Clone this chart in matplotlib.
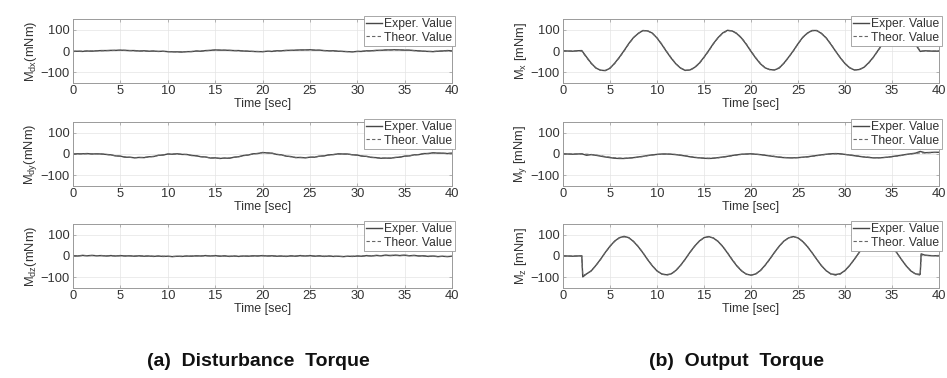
import numpy as np
import matplotlib
matplotlib.use("Agg")
import matplotlib.pyplot as plt

plt.rcParams['font.family'] = ['Liberation Sans', 'DejaVu Sans']
plt.rcParams['mathtext.default'] = 'regular'

# ---------------- data ----------------
time = np.arange(0, 40.01, 0.5)
time_z = np.r_[np.arange(0, 2.01, 0.5), 2.1, np.arange(2.5, 38.01, 0.5), 38.1, np.arange(38.5, 40.01, 0.5)]

x_ticks = [0, 5, 10, 15, 20, 25, 30, 35, 40]
y_ticks = [-100, 0, 100]

# (a) disturbance torque
mdx_theor = [-1, -1, -1, 0, 0, 1, 1, 2, 2, 3,
             3, 3, 2, 1, 0, 0, -1, -1, -2, -2,
             -3, -3, -4, -4, -3, -2, -1, 0, 1, 3,
             4, 4, 3, 3, 2, 1, 0, -1, -2, -2,
             -3, -2, -1, 0, 1, 2, 3, 3, 4, 5,
             5, 4, 3, 2, 1, 0, -1, -2, -3, -3,
             -2, -1, 0, 1, 2, 3, 4, 5, 5, 5,
             4, 3, 2, 0, -1, -2, -2, -1, 0, 1,
             1]
mdx_exper = [-2, -1, -2, 0, -1, 1, 2, 2, 3, 3,
             4, 3, 2, 2, 0, 1, -1, 0, -2, -1,
             -3, -4, -4, -5, -3, -3, 0, -1, 2, 3,
             5, 4, 4, 3, 2, 2, 0, -1, -2, -3,
             -3, -1, -2, 1, 1, 3, 3, 4, 5, 5,
             6, 4, 4, 2, 1, 1, -1, -2, -3, -4,
             -2, -2, 1, 1, 3, 3, 5, 5, 6, 5,
             4, 4, 2, 1, -1, -2, -3, -1, 0, 2,
             1]

mdy_theor = [0, 0, 1, 1, 1, 1, 0, -2, -5, -8,
             -11, -14, -16, -17, -17, -16, -14, -11, -7, -4,
             -1, 0, 0, -1, -3, -6, -9, -12, -15, -18,
             -19, -20, -20, -19, -16, -12, -8, -4, 0, 3,
             6, 6, 3, -1, -5, -9, -13, -16, -17, -17,
             -16, -14, -11, -8, -5, -2, 0, 0, -1, -3,
             -6, -9, -12, -15, -18, -19, -20, -19, -17, -14,
             -11, -8, -5, -2, 1, 3, 5, 4, 3, 3,
             3]
mdy_exper = [0, 1, 1, 2, 0, 1, 0, -2, -4, -9,
             -10, -15, -15, -18, -16, -17, -13, -12, -6, -5,
             0, -1, 1, -2, -2, -7, -8, -13, -14, -19,
             -18, -21, -19, -20, -15, -13, -7, -5, 1, 2,
             7, 5, 4, -2, -4, -10, -12, -17, -16, -18,
             -15, -15, -10, -9, -4, -3, 1, 0, 0, -4,
             -5, -10, -11, -16, -17, -20, -19, -20, -16, -15,
             -10, -9, -4, -3, 2, 2, 6, 4, 4, 2,
             4]

mdz_theor = [1, 1, 2, 2, 2, 2, 2, 1, 1, 1,
             1, 1, 1, 0, 0, 0, 0, -1, -1, -1,
             -2, -2, -2, -1, -1, 0, 0, 1, 1, 1,
             1, 0, 0, -1, -1, -1, -1, 0, 0, 1,
             1, 1, 0, 0, -1, -1, 0, 0, 1, 1,
             1, 0, 0, -1, -1, -1, -2, -2, -2, -1,
             -1, 0, 1, 1, 2, 2, 3, 3, 3, 3,
             3, 2, 2, 1, 0, -1, -1, -2, -2, -2,
             -2]
mdz_exper = [2, 0, 3, 1, 3, 1, 2, 0, 2, 0,
             2, 0, 1, -1, 1, -1, 0, -2, 0, -2,
             -1, -3, -1, -2, 0, -1, 1, 0, 2, 0,
             2, -1, 1, -2, 0, -2, 0, -1, 1, 0,
             2, 0, 1, -1, 0, -2, 1, -1, 2, 0,
             2, -1, 1, -2, 0, -2, -1, -3, -1, -2,
             0, -1, 2, 0, 3, 1, 4, 2, 4, 2,
             4, 1, 3, 0, 1, -2, 0, -3, -1, -3,
             -1]

# (b) output torque
mx_theor = [0, 0, 0, 0, 0,
            -31, -59, -79, -91, -91, -79, -59, -31, 0,
            33, 62, 83, 95, 95, 83, 62, 33, 0,
            -31, -59, -79, -90, -90, -79, -59, -31, 0,
            33, 62, 83, 95, 95, 83, 62, 33, 0,
            -31, -58, -78, -88, -88, -78, -58, -31, 0,
            33, 62, 83, 95, 95, 83, 62, 33, 0,
            -31, -58, -78, -88, -88, -78, -58, -31, 0,
            33, 62, 83, 95, 95, 83, 62, 33, 0,
            0, 0, 0, 0]
mx_exper = [1, 0, -1, 1, 2,
            -28, -57, -80, -90, -92, -81, -57, -29, 2,
            35, 63, 82, 96, 94, 84, 61, 31, -2,
            -33, -60, -80, -91, -89, -77, -57, -29, 2,
            35, 63, 85, 97, 94, 81, 60, 31, -2,
            -33, -60, -79, -87, -89, -80, -57, -29, 1,
            34, 64, 84, 96, 96, 82, 61, 31, -1,
            -32, -59, -79, -89, -87, -77, -56, -30, 2,
            34, 63, 84, 96, 94, 82, 60, 31, -2,
            1, 0, -1, 0]

my_theor = [0, 0, 0, 0, 0,
            -1, -2, -5, -8, -12, -15, -18, -19, -20, -19, -18, -15, -12, -8, -5, -2, -1, 0,
            -1, -2, -5, -8, -12, -15, -18, -19, -20, -19, -18, -15, -12, -8, -5, -2, -1, 0,
            -1, -3, -5, -8, -11, -14, -16, -17, -18, -17, -16, -14, -11, -8, -5, -2, 0, 1,
            0, -2, -4, -7, -10, -13, -15, -17, -18, -17, -15, -13, -10, -7, -3, 0, 3, 5,
            5, 6, 7, 7]
my_exper = [1, 0, -1, 0, 1,
            -6, -3, -6, -10, -14, -17, -20, -21, -21, -19, -17, -14, -11, -7, -4, -2, 0, 0,
            -1, -3, -6, -9, -13, -16, -18, -20, -21, -20, -17, -14, -11, -7, -4, -1, 0, 1,
            -1, -3, -6, -9, -12, -15, -17, -18, -18, -17, -15, -13, -10, -7, -4, -1, 1, 2,
            1, -2, -5, -8, -11, -14, -16, -18, -18, -17, -15, -12, -9, -6, -2, 1, 4, 12,
            6, 7, 8, 8]

mz_theor = [0, 0, 0, 0, 0, -90,
            -85, -69, -45, -16, 16, 45, 69, 85, 90, 85, 69, 45, 16, -16, -45, -69, -85, -90,
            -85, -69, -45, -16, 16, 45, 69, 85, 90, 85, 69, 45, 16, -16, -45, -69, -85, -90,
            -85, -69, -45, -16, 16, 45, 69, 85, 90, 85, 69, 45, 16, -16, -45, -69, -85, -90,
            -85, -69, -45, -16, 16, 45, 69, 85, 90, 85, 69, 45, 16, -16, -45, -69, -85, -90,
            5, 3, 2, 2, 2]
mz_exper = [1, 0, -1, 0, 1, -98,
            -84, -70, -44, -15, 17, 46, 70, 86, 92, 86, 68, 44, 15, -17, -46, -70, -84, -88,
            -84, -68, -44, -15, 17, 46, 70, 86, 91, 84, 68, 44, 14, -18, -47, -70, -85, -90,
            -84, -68, -43, -14, 17, 46, 70, 85, 91, 85, 68, 44, 15, -16, -46, -69, -84, -87,
            -83, -68, -44, -15, 16, 46, 70, 86, 91, 85, 69, 45, 16, -16, -46, -70, -84, -86,
            10, 4, 2, 1, 2]

panels = [
    # (col, row, t, exper, theor, ylabel)
    (0, 0, time, mdx_exper, mdx_theor, 'M$_{dx}$(mNm)'),
    (0, 1, time, mdy_exper, mdy_theor, 'M$_{dy}$(mNm)'),
    (0, 2, time, mdz_exper, mdz_theor, 'M$_{dz}$(mNm)'),
    (1, 0, time, mx_exper, mx_theor, 'M$_x$ [mNm]'),
    (1, 1, time, my_exper, my_theor, 'M$_y$ [mNm]'),
    (1, 2, time_z, mz_exper, mz_theor, 'M$_z$ [mNm]'),
]
captions = ['(a)  Disturbance  Torque', '(b)  Output  Torque']

# ---------------- figure ----------------
W, H = 947, 378
fig = plt.figure(figsize=(W / 100, H / 100), dpi=100)

col_left = [73, 563]
col_width = [379, 376]
row_top = [19, 122, 224]
ax_h = 64

text_col = '#333333'
for col, row, t, ex, th, ylab in panels:
    assert len(t) == len(ex) == len(th), (ylab, len(t), len(ex), len(th))
    l = col_left[col] / W
    b = 1 - (row_top[row] + ax_h) / H
    ax = fig.add_axes([l, b, col_width[col] / W, ax_h / H])
    ax.plot(t, ex, color='#474747', lw=1.0, ls='-', label='Exper. Value')
    ax.plot(t, th, color='#666666', lw=0.8, ls=(0, (3, 2)), label='Theor. Value')
    ax.set_xlim(0, 40)
    ax.set_ylim(-150, 150)
    ax.set_xticks(x_ticks)
    ax.set_yticks(y_ticks)
    ax.grid(True, color='#e4e4e4', lw=0.5)
    ax.tick_params(axis='both', direction='in', length=2.5, width=0.5, top=True, right=True,
                   labelsize=9.3, colors='#9a9a9a', labelcolor=text_col)
    ax.tick_params(axis='x', pad=1.5)
    ax.tick_params(axis='y', pad=2.5)
    for s in ax.spines.values():
        s.set_color('#9a9a9a')
        s.set_linewidth(0.7)
    ax.set_xlabel('Time [sec]', fontsize=9.0, color=text_col, labelpad=0.5)
    ax.set_ylabel(ylab, fontsize=9.3, color=text_col, labelpad=1)
    leg = ax.legend(loc='upper right', bbox_to_anchor=(1.008, 1.05), borderaxespad=0,
                    fontsize=8.7, handlelength=1.3, handletextpad=0.2, borderpad=0.2,
                    labelspacing=0.12, fancybox=False, framealpha=1, edgecolor='#9a9a9a')
    leg.get_frame().set_linewidth(0.6)
    for txt in leg.get_texts():
        txt.set_color(text_col)

fig.text(258 / W, 1 - 362 / H, captions[0], fontsize=14, fontweight='bold',
         ha='center', va='center', color='#111111')
fig.text(736 / W, 1 - 362 / H, captions[1], fontsize=14, fontweight='bold',
         ha='center', va='center', color='#111111')

fig.savefig('out.png', dpi=100)
